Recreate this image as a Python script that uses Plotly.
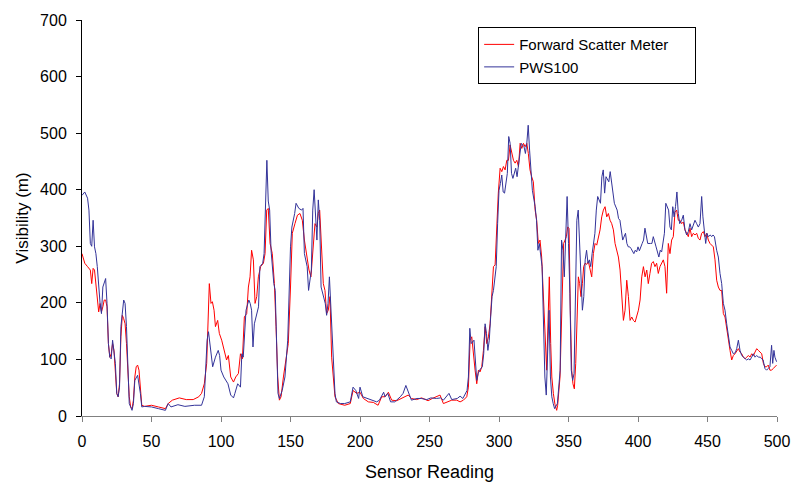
import plotly.graph_objects as go

# Forward Scatter Meter (red)
fsm_x = [0, 2, 4, 6, 7, 8, 9, 10, 11, 12, 13, 14, 15, 16, 17, 18, 19, 20, 21, 22, 23, 24, 25, 26, 27, 28, 29, 30, 31, 32, 33, 34, 35, 36, 37, 38, 39, 40, 41, 42, 43, 45, 50, 55, 60, 62, 65, 70, 75, 80, 84, 86, 88, 89.7, 91, 91.6, 92.8, 93.8, 95, 96, 97.6, 98.8, 100.5, 102.4, 104, 105.3, 107, 109, 110.6, 112.5, 114, 115.4, 116.8, 118.5, 119.7, 120.9, 122, 123.3, 124.5, 125.7, 126.9, 128.5, 130.5, 131.7, 132.9, 134, 135.3, 136.9, 138.4, 139.6, 140.8, 142, 143.2, 144.9, 146.5, 148.4, 150, 151.3, 153.2, 155, 156.8, 158.5, 160, 161.6, 163.3, 164.7, 166.4, 167.6, 169, 170, 171, 172.4, 173.6, 174.8, 176, 177.2, 178.4, 179.6, 180.8, 182, 184.4, 189, 193, 195, 197.6, 200, 202.4, 206, 209.6, 213, 215.6, 218, 220.4, 222.8, 226.4, 230, 232.3, 234.7, 237, 240.7, 244.3, 249, 252, 256.3, 257.6, 260, 263.6, 266, 269.6, 272, 274.4, 276.8, 278, 279.2, 280.4, 281.6, 282.8, 284, 285.2, 286.4, 287.6, 288.8, 290, 291.2, 292.4, 293.6, 294.8, 296, 297.2, 298.4, 299.5, 300.8, 302, 303.2, 304.4, 305.6, 306.8, 308, 309.2, 310.4, 311.6, 312.8, 314, 315.2, 316.4, 317.6, 318.8, 320, 321.1, 322.3, 323.5, 324.7, 326, 327.1, 328.3, 329.5, 330.7, 331.9, 333, 334.3, 335.5, 336.2, 337.2, 338, 339.1, 340.3, 341.5, 342.2, 343.9, 344.6, 345.6, 346.5, 347.5, 348.5, 349.4, 350.4, 351.3, 352.3, 353.2, 354.2, 355.2, 356.1, 357.1, 358, 359, 360, 360.9, 361.9, 363.1, 364.3, 365.5, 366.7, 367.9, 369.1, 370.3, 371.5, 372.7, 373.9, 375.1, 376.3, 377.5, 378.7, 379.9, 381.1, 382.3, 383.5, 384.7, 385.9, 387.1, 388.3, 389.5, 390.7, 391.9, 393.1, 394.3, 395.5, 396.7, 397.9, 399.1, 400.3, 401.5, 402.7, 403.9, 405.1, 406.3, 407.4, 408.6, 409.8, 411, 412.2, 413.4, 414.6, 415.8, 417, 418.2, 419.4, 420.6, 421.8, 423, 424.2, 425.4, 426.6, 427.8, 429, 430.2, 431.4, 432.6, 433.8, 435, 436.2, 437.4, 438.6, 439.8, 441, 442.2, 443.4, 444.6, 445.8, 447, 448.2, 449.4, 450.6, 451.8, 453, 454.2, 455.4, 456.6, 457.8, 459, 460.2, 461.4, 462.6, 463.8, 465, 466.2, 467.4, 468.6, 469.8, 471, 472.2, 473.4, 474.6, 475.8, 477, 478.2, 479.4, 480.6, 481.8, 483, 484.2, 485.4, 486.6, 487.8, 489, 490.2, 491.3, 492.5, 493.7, 494.9, 496.1, 497.3, 498.5, 499.7]
fsm_y = [287, 270, 264, 258, 234, 261, 258, 234, 211, 184, 199, 184, 193, 205, 205, 193, 128, 104, 110, 128, 116, 69, 40, 34, 57, 140, 178, 172, 163, 128, 81, 34, 16, 13, 28, 69, 87, 90, 81, 51, 19, 17, 19, 16, 13, 22, 28, 32, 29, 29, 34, 40, 57, 93, 211, 234, 199, 202, 187, 158, 169, 146, 134, 116, 99, 107, 69, 60, 69, 75, 110, 101, 175, 181, 228, 246, 293, 276, 199, 211, 246, 264, 270, 287, 364, 367, 305, 287, 234, 158, 69, 28, 34, 69, 93, 128, 228, 323, 340, 355, 358, 346, 311, 281, 258, 246, 305, 340, 334, 358, 364, 293, 234, 222, 181, 187, 211, 104, 69, 34, 22, 19, 22, 45, 40, 42, 31, 25, 24, 19, 34, 34, 42, 28, 27, 31, 34, 37, 31, 29, 32, 27, 31, 35, 37, 22, 25, 28, 28, 25, 28, 34, 51, 134, 140, 104, 81, 57, 81, 78, 87, 116, 158, 128, 140, 163, 205, 264, 267, 346, 394, 438, 432, 441, 435, 452, 452, 479, 464, 452, 447, 452, 441, 482, 473, 482, 476, 482, 464, 435, 423, 414, 364, 346, 305, 311, 281, 211, 128, 81, 187, 246, 128, 69, 40, 20, 10, 19, 69, 128, 246, 305, 311, 317, 334, 332, 187, 81, 57, 48, 93, 187, 246, 234, 211, 234, 264, 270, 268, 273, 258, 246, 287, 305, 302, 317, 329, 352, 364, 370, 352, 358, 346, 340, 329, 305, 293, 281, 258, 211, 169, 187, 240, 211, 169, 175, 169, 166, 175, 187, 205, 246, 264, 246, 258, 234, 252, 270, 273, 264, 270, 252, 264, 270, 276, 264, 217, 305, 287, 311, 317, 360, 364, 346, 346, 340, 343, 329, 323, 317, 332, 317, 323, 320, 323, 314, 311, 323, 326, 317, 323, 311, 305, 302, 299, 276, 240, 228, 222, 222, 181, 175, 152, 134, 116, 99, 107, 110, 116, 119, 113, 110, 104, 101, 104, 107, 104, 110, 107, 113, 119, 116, 113, 110, 93, 87, 87, 90, 81, 81, 84, 87, 90]

# PWS100 (blue)
pws_x = [0, 2, 4, 5, 6, 7, 8, 9, 10, 11, 13, 14, 15, 17, 18, 19, 20, 21, 22, 24, 25, 26, 27, 28, 30, 31, 32, 33, 34, 36, 37, 38, 40, 42, 43, 45, 50, 55, 60, 62, 64, 69, 74, 81, 86, 88, 90, 91, 92, 93, 94, 96, 98, 99, 100, 102, 104, 105, 107, 109, 110, 112, 114, 115, 116, 118, 120, 121, 122, 123, 124, 126, 127, 128, 130, 131, 133, 134, 135, 136, 138, 139, 141, 142, 144, 146, 147, 148, 150, 151, 153, 154, 156, 158, 159, 160, 162, 163, 165, 166, 167, 168, 169, 170, 171, 172, 174, 175, 176, 177, 178, 180, 181, 182, 183, 186, 189, 193, 195, 197, 199, 200, 202, 205, 208, 212, 214, 217, 218, 220, 222, 225, 229, 231, 233, 235, 237, 241, 244, 248, 251, 255, 258, 260, 264, 266, 270, 272, 274, 277, 278, 279, 280, 282, 283, 284, 285, 286, 288, 289, 290, 291, 292, 293, 294, 295, 296, 298, 299, 300, 301, 302, 303, 304, 306, 307, 308, 309, 310, 312, 313, 314, 315, 316, 318, 319, 320, 321, 322, 323, 324, 326, 327, 328, 329, 331, 332, 333, 334, 335, 336, 337, 338, 339, 340, 342, 343, 344, 345, 346, 347, 348, 349, 350, 351, 352, 353, 354, 355, 356, 357, 358, 359, 360, 361, 362, 363, 364, 365, 366, 367, 368, 369, 370, 371, 373, 374, 375, 376, 377, 379, 380, 381, 382, 383, 385, 386, 387, 388, 389, 391, 392, 393, 394, 395, 397, 398, 399, 400, 401, 403, 404, 405, 406, 407, 409, 410, 411, 412, 413, 415, 416, 417, 418, 419, 420, 422, 423, 424, 425, 426, 427, 428, 429, 430, 431.4, 432.6, 433.8, 435, 436.2, 437.4, 438.6, 439.8, 441, 442.2, 443.4, 444.6, 445.8, 446.7, 447.7, 448.7, 449.6, 450.6, 452, 453, 454, 455, 456.6, 457.8, 459, 460.2, 461.4, 462.6, 463.8, 465, 466.2, 467.4, 468.6, 470, 471, 472.2, 473.4, 474.6, 475.8, 477, 478.2, 479.4, 480.6, 481.8, 483, 484.2, 485.4, 486.6, 488, 489, 490, 491.3, 492.5, 493.7, 494.9, 496.1, 496.9, 497.8, 498.5, 499.7]
pws_y = [390, 396, 385, 364, 305, 300, 346, 299, 287, 264, 199, 181, 228, 243, 199, 128, 104, 101, 134, 93, 40, 34, 51, 158, 205, 199, 158, 81, 22, 10, 22, 63, 72, 40, 16, 17, 16, 13, 10, 22, 16, 20, 17, 19, 19, 34, 134, 149, 128, 104, 87, 104, 116, 107, 81, 69, 60, 57, 37, 32, 40, 57, 51, 110, 104, 187, 205, 199, 187, 122, 163, 181, 193, 264, 270, 287, 452, 380, 364, 293, 234, 222, 40, 31, 45, 69, 104, 134, 299, 334, 358, 376, 367, 364, 367, 287, 264, 222, 258, 364, 400, 340, 311, 382, 346, 228, 211, 199, 178, 199, 246, 128, 75, 40, 25, 22, 22, 25, 51, 45, 31, 51, 34, 31, 28, 25, 28, 42, 34, 40, 25, 25, 34, 40, 54, 40, 28, 31, 31, 29, 32, 31, 32, 28, 40, 29, 31, 35, 31, 45, 69, 155, 128, 134, 93, 63, 75, 81, 87, 110, 163, 146, 116, 134, 175, 211, 222, 264, 340, 399, 411, 426, 396, 394, 429, 494, 482, 429, 420, 438, 423, 447, 464, 482, 476, 464, 482, 514, 470, 423, 399, 370, 346, 293, 305, 264, 187, 69, 37, 128, 187, 69, 34, 22, 13, 22, 50, 81, 311, 293, 246, 320, 388, 305, 217, 81, 63, 75, 187, 346, 364, 305, 228, 187, 211, 276, 293, 270, 276, 264, 287, 305, 323, 364, 388, 376, 423, 435, 394, 423, 414, 432, 411, 394, 376, 364, 349, 346, 329, 311, 323, 305, 299, 299, 296, 287, 293, 290, 299, 292, 305, 311, 332, 317, 305, 305, 305, 317, 305, 299, 281, 293, 290, 305, 323, 376, 364, 334, 329, 370, 352, 370, 396, 358, 340, 346, 355, 329, 320, 326, 340, 329, 340, 346, 340, 334, 340, 388, 352, 329, 305, 323, 317, 320, 317, 320, 317, 293, 281, 252, 234, 199, 187, 163, 140, 122, 116, 110, 112, 119, 134, 116, 107, 104, 101, 99, 101, 99, 104, 110, 104, 107, 104, 104, 101, 99, 84, 81, 84, 87, 125, 93, 116, 104, 96]

x_ticks = [0, 50, 100, 150, 200, 250, 300, 350, 400, 450, 500]
y_ticks = [0, 100, 200, 300, 400, 500, 600, 700]

FONT = "Liberation Sans, Arial, sans-serif"
PAD = "\u00a0" * 5

fig = go.Figure()
fig.add_trace(go.Scatter(x=fsm_x, y=fsm_y, mode="lines", name="Forward Scatter Meter" + PAD,
                         line=dict(color="#FF0000", width=1)))
fig.add_trace(go.Scatter(x=pws_x, y=pws_y, mode="lines", name="PWS100",
                         line=dict(color="#333399", width=1)))

fig.update_layout(
    width=805, height=482,
    margin=dict(l=82, r=28, t=20, b=66),
    paper_bgcolor="white", plot_bgcolor="white",
    font=dict(family=FONT, size=16, color="black"),
    showlegend=True,
    legend=dict(x=0.57, y=0.982, xanchor="left", yanchor="top",
                bordercolor="black", borderwidth=1, bgcolor="white",
                font=dict(family=FONT, size=15), tracegroupgap=0,
                itemwidth=30),
    xaxis=dict(range=[0, 500], tickvals=x_ticks, showgrid=False, zeroline=False,
               showline=True, linecolor="#808080", linewidth=1,
               ticks="outside", ticklen=5, tickcolor="#808080",
               ticklabelstandoff=6, automargin=False,
               title=dict(text="Sensor Reading", font=dict(size=18), standoff=17),
               tickfont=dict(size=16)),
    yaxis=dict(range=[0, 700], tickvals=y_ticks, showgrid=False, zeroline=False,
               showline=True, linecolor="black", linewidth=1,
               ticks="outside", ticklen=5, tickcolor="black",
               ticklabelstandoff=6, automargin=False,
               title=dict(text="Visibility (m)", font=dict(size=17), standoff=7),
               tickfont=dict(size=16)),
)

fig.write_html("out.html")
